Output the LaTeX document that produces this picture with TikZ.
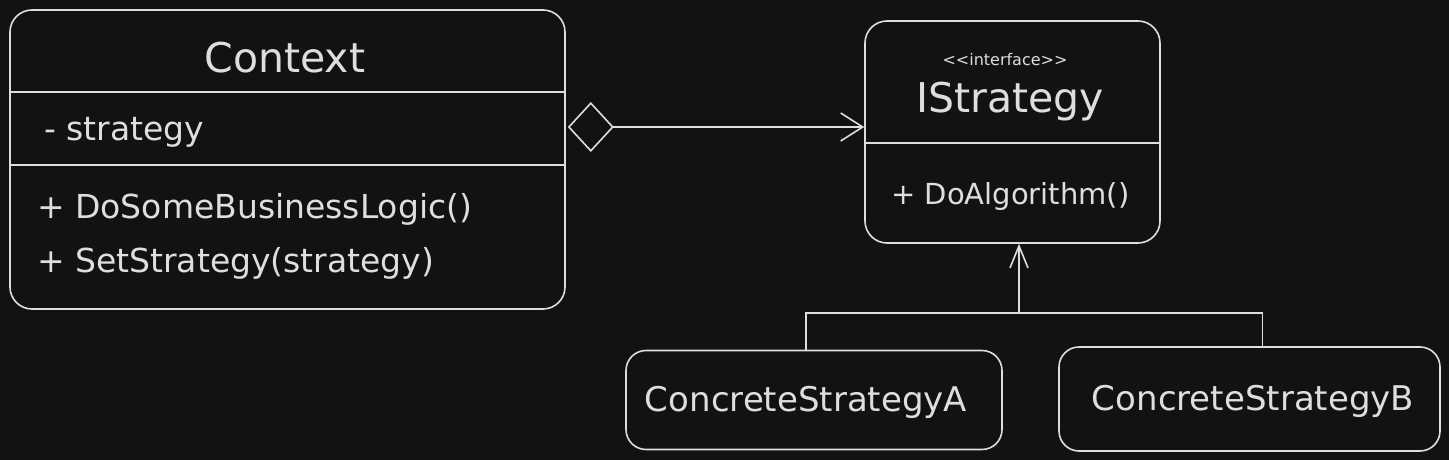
\documentclass[tikz,border=0pt]{standalone}
\usepackage{fontspec}
\setmainfont{DejaVu Sans}
\usetikzlibrary{arrows.meta}
\definecolor{bgcol}{HTML}{121212}
\definecolor{inkcol}{HTML}{DEDEDE}

\begin{document}
\begin{tikzpicture}[x=1pt,y=-1pt]
		\tikzstyle{box}=[draw=inkcol,line width=1.6pt,rounded corners=22pt,inner sep=0pt]
		\tikzstyle{edge}=[draw=inkcol,line width=1.6pt]
		\tikzstyle{title}=[text=inkcol,inner sep=0pt,font=\fontsize{41}{49}\selectfont]
		\tikzstyle{member}=[text=inkcol,inner sep=0pt,anchor=base west,font=\fontsize{33}{40}\selectfont]
		\tikzstyle{leaf}=[text=inkcol,inner sep=0pt,font=\fontsize{34}{41}\selectfont]

		\fill[bgcol] (0,0) rectangle (1449,460);
		\useasboundingbox (0,0) rectangle (1449,460);

		% Context class
		 \node [box,minimum width=555pt,minimum height=299pt] (ctx) at (287.5,159.5) {};
		 \node [title,anchor=base] (ctxname) at (285,73) {Context};
		 \node [member] (ctxattr) at (44,140) {- strategy};
		 \node [member] (ctxop1) at (37,218) {+ DoSomeBusinessLogic()};
		 \node [member] (ctxop2) at (37,272) {+ SetStrategy(strategy)};
		 \coordinate (sep1) at (0,92);
		 \coordinate (sep2) at (0,165);
		 \path[edge] (ctx.west |- sep1) -- (ctx.east |- sep1);
		 \path[edge] (ctx.west |- sep2) -- (ctx.east |- sep2);

		% interface
		 \node [box,minimum width=295pt,minimum height=222pt] (istr) at (1012.5,132) {};
		 \node [text=inkcol,inner sep=0pt,font=\fontsize{16}{19}\selectfont] (stereo) at (1005,60) {{<}{<}interface{>}{>}};
		 \node [title,anchor=base] (istrname) at (1010,112) {IStrategy};
		 \node [member,font=\fontsize{29}{35}\selectfont] (istrop) at (891,204) {+ DoAlgorithm()};
		 \coordinate (sep3) at (0,143);
		 \path[edge] (istr.west |- sep3) -- (istr.east |- sep3);

		% concrete strategies
		 \node [box,rounded corners=20pt,minimum width=376pt,minimum height=99pt] (csa) at (814,400) {};
		 \node [leaf] (csaname) at (806,402) {ConcreteStrategyA};
		 \node [box,rounded corners=20pt,minimum width=381pt,minimum height=104pt] (csb) at (1249.5,399) {};
		 \node [leaf] (csbname) at (1253,401) {ConcreteStrategyB};

		% aggregation
		 \coordinate (agg) at (0,127);
		 \path[edge,{Diamond[open,length=46pt,width=50pt]}-{Straight Barb[length=22pt,width=28pt]}] ([xshift=2pt]ctx.east |- agg) -- (istr.west |- agg);

		% realization
		 \coordinate (join) at (1019,313);
		 \path[edge] ([xshift=-8pt]csa.north) |- (join) -| ([xshift=13pt]csb.north);
		 \path[edge,-{Straight Barb[length=22pt,width=18pt]}] (join) -- (join |- istr.south);

\end{tikzpicture}
\end{document}
